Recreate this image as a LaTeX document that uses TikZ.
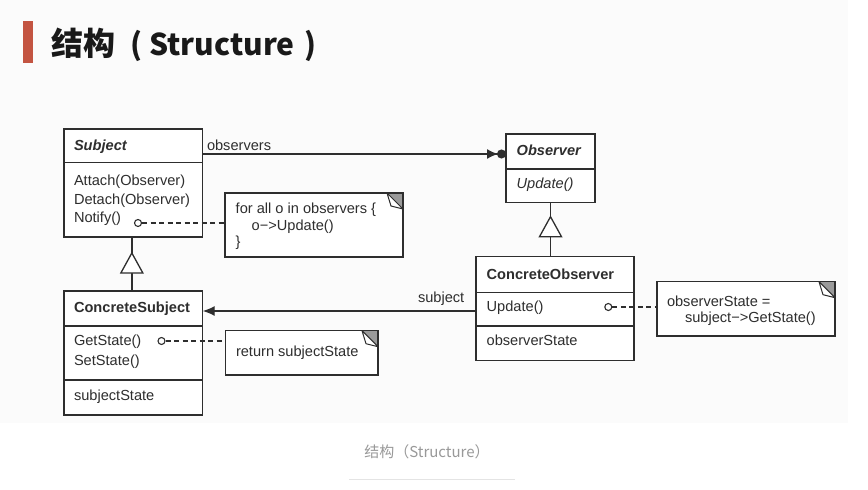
\documentclass[tikz,border=0pt]{standalone}
\usepackage{fontspec}
\setmainfont{Liberation Sans}
\newfontfamily\cjk{Noto Sans CJK SC}
\usetikzlibrary{arrows.meta}
\definecolor{ink}{HTML}{2E2E2E}
\definecolor{bg}{HTML}{FBFBFB}
\definecolor{bar}{HTML}{C35441}
\definecolor{ear}{HTML}{9A9A9A}
\definecolor{cap}{HTML}{999999}
\definecolor{rule}{HTML}{E4E4E4}
\tikzset{
  cls/.style={draw=ink, line width=1.3pt, anchor=north west, inner sep=0pt, outer sep=0pt, fill=white},
  divider/.style={draw=ink, line width=1.2pt},
  lbl/.style={anchor=base west, inner sep=0pt, outer sep=0pt, text=ink, font=\fontsize{14.6}{17}\selectfont},
  port/.style={circle, draw=ink, line width=1.1pt, minimum size=7pt, inner sep=0pt, fill=white},
  dashline/.style={draw=ink, line width=1.3pt, dash pattern=on 5pt off 3.5pt},
  conn/.style={draw=ink, line width=1.3pt},
  notebox/.style={draw=ink, line width=1.2pt, fill=white, anchor=north west, inner sep=0pt, outer sep=0pt,
    path picture={
      \fill[ear] ([xshift=-16pt]path picture bounding box.north east) -- (path picture bounding box.north east) -- ([yshift=-16pt]path picture bounding box.north east) -- cycle;
      \draw[ink, line width=1pt, fill=white] ([xshift=-16pt]path picture bounding box.north east) -- ([xshift=-12pt,yshift=-13pt]path picture bounding box.north east) -- ([yshift=-16pt]path picture bounding box.north east) -- cycle;
    }},
  gen/.style={draw=ink, line width=1.3pt, fill=white}
}
\begin{document}
\begin{tikzpicture}[x=1pt,y=-1pt]
\useasboundingbox (0,0) rectangle (868,490);
\fill[white] (0,0) rectangle (868,490);
\fill[bg] (0,0) rectangle (848,423);

% title
\fill[bar] (23,20.5) rectangle (33,62.5);
\node[anchor=base west, inner sep=0pt, text=black!90, font=\cjk\bfseries\fontsize{32}{36}\selectfont] (title) at (51,55) {结构\hspace{15pt}{\fontsize{30}{34}\selectfont(\hspace{7pt}Structure\hspace{10pt})}};

% classes
\node[cls, minimum width=138.7pt, minimum height=108pt] (subject) at (64,129) {};
\draw[divider] ([yshift=-33.3pt]subject.north west) -- ([yshift=-33.3pt]subject.north east);
\node[lbl, font=\fontsize{14.6}{17}\selectfont\bfseries\itshape] (subjectname) at (74,150.7) {Subject};
\node[lbl] (attach) at (74,185) {Attach(Observer)};
\node[lbl] (detach) at (74,204) {Detach(Observer)};
\node[lbl] (notify) at (74,222) {Notify()};

\node[cls, minimum width=89pt, minimum height=68.7pt] (observer) at (506,134) {};
\draw[divider] ([yshift=-35pt]observer.north west) -- ([yshift=-35pt]observer.north east);
\node[lbl, font=\fontsize{14.6}{17}\selectfont\bfseries\itshape] (observername) at (516.7,155.7) {Observer};
\node[lbl, font=\fontsize{14.6}{17}\selectfont\itshape] (oupdate) at (516.7,188.5) {Update()};

\node[cls, minimum width=138.7pt, minimum height=124pt] (csub) at (64,291) {};
\draw[divider] ([yshift=-35pt]csub.north west) -- ([yshift=-35pt]csub.north east);
\draw[divider] ([yshift=-89pt]csub.north west) -- ([yshift=-89pt]csub.north east);
\node[lbl, font=\fontsize{14.6}{17}\selectfont\bfseries] (csubname) at (74,312.7) {ConcreteSubject};
\node[lbl] (getstate) at (74,345) {GetState()};
\node[lbl] (setstate) at (74,365) {SetState()};
\node[lbl] (substate) at (74,400) {subjectState};

\node[cls, minimum width=158pt, minimum height=104pt] (cobs) at (476,256.7) {};
\draw[divider] ([yshift=-35.6pt]cobs.north west) -- ([yshift=-35.6pt]cobs.north east);
\draw[divider] ([yshift=-69.3pt]cobs.north west) -- ([yshift=-69.3pt]cobs.north east);
\node[lbl, font=\fontsize{14.6}{17}\selectfont\bfseries] (cobsname) at (486.7,279) {ConcreteObserver};
\node[lbl] (cupdate) at (486.7,311.7) {Update()};
\node[lbl] (obsstate) at (486.7,345.7) {observerState};

% notes
\node[notebox, minimum width=178pt, minimum height=64pt] (note1) at (225,193) {};
\node[lbl] (n1a) at (235.7,213) {for all o in observers \{};
\node[lbl] (n1b) at (251.7,230.5) {o−>Update()};
\node[lbl] (n1c) at (235.7,246) {\}};

\node[notebox, minimum width=152.3pt, minimum height=44.3pt] (note2) at (225.7,330.7) {};
\node[lbl] (n2a) at (236,356) {return subjectState};

\node[notebox, minimum width=178pt, minimum height=54.3pt] (note3) at (657,281.7) {};
\node[lbl] (n3a) at (667,306.7) {observerState =};
\node[lbl] (n3b) at (685,322.7) {subject−>GetState()};

% ports and dashed links
\node[port] (p1) at (138,223) {};
\node[port] (p2) at (161.5,341) {};
\node[port] (p3) at (608.3,307) {};
\draw[dashline] (p1) -- (p1 -| note1.west);
\draw[dashline] (p2) -- (p2 -| note2.west);
\draw[dashline] (p3) -- (p3 -| note3.west);

% associations
\draw[conn, -{Latex[length=11pt,width=10pt,sep=-1pt] Circle[length=9pt,width=9pt]}] ([yshift=-25pt]subject.north east) -- ([yshift=-20pt]observer.north west);
\node[lbl] (obslabel) at (207,150) {observers};
\draw[conn, -{Latex[length=12pt,width=10pt]}] ([yshift=-54.3pt]cobs.north west) -- ([yshift=-20pt]csub.north east);
\node[lbl] (sublabel) at (418,302.7) {subject};

% generalizations
\draw[conn] ([xshift=-1.5pt]subject.south) -- ([xshift=-1.5pt]subject.south |- csub.north);
\draw[gen] ([xshift=-1.5pt,yshift=-16pt]subject.south) -- ++(-11,20) -- ++(22,0) -- cycle;
\draw[conn] (observer.south) -- (observer.south |- cobs.north);
\draw[gen] ([yshift=-14pt]observer.south) -- ++(-11,20) -- ++(22,0) -- cycle;

% caption
\node[anchor=base, inner sep=0pt, text=cap, font=\cjk\fontsize{15}{18}\selectfont] (caption) at (427,457.7) {结构（Structure）};
\draw[rule, line width=1pt] (349,479.3) -- (515,479.3);
\end{tikzpicture}
\end{document}
